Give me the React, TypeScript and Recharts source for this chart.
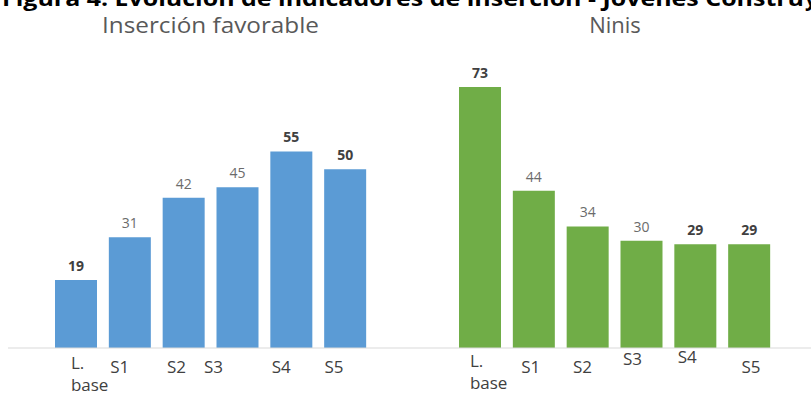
import { BarChart, Bar, XAxis, YAxis, LabelList } from "recharts"

const categories = ["L. base", "S1", "S2", "S3", "S4", "S5"]
const insercionValues = [19, 31, 42, 45, 55, 50]
const ninisValues = [73, 44, 34, 30, 29, 29]
const panelTitles = ["Inserción favorable", "Ninis"]
const figureTitle = "Figura 4. Evolución de indicadores de inserción - Jóvenes Constru"
const figureTitleRest = "yendo el Futuro"

// which value labels are bold in each panel
const boldLeft = [0, 4, 5]
const boldRight = [0, 4, 5]

// small per-tick nudges [dx, dy] to follow the original label placement
const nudgeLeft = [[-5, -4], [-10, 0], [-7, 0], [-24, 0], [-10, 0], [-11, 0]]
const nudgeRight = [[-10, -6], [-3, 0], [-5, 0], [-9, -8], [-8, -10], [2, 0]]

const FONT = "'Open Sans', sans-serif"

const makeTick = (nudge: number[][]) => (props: any) => {
   const { x, y, payload, index } = props
   const [dx, dy] = nudge[index] || [0, 0]
   const lines = String(payload.value).split(" ")
   const base = y + 25 + dy
   if (lines.length > 1) {
      return (
         <text x={x + dx} y={base} textAnchor="start" fontSize={17} fill="#404040" fontFamily={FONT}>
            {lines.map((l, i) => (
               <tspan key={i} x={x + dx} y={base + i * 22}>
                  {l}
               </tspan>
            ))}
         </text>
      )
   }
   return (
      <text x={x + dx} y={base} textAnchor="middle" fontSize={17} fill="#404040" fontFamily={FONT}>
         {payload.value}
      </text>
   )
}

const makeLabel = (bold: number[]) => (props: any) => {
   const { x, y, width, value, index } = props
   const isBold = bold.includes(index)
   return (
      <text
         x={x + width / 2}
         y={y - 9}
         textAnchor="middle"
         fontSize={14}
         fontFamily={FONT}
         fontWeight={isBold ? 700 : 400}
         fill={isBold ? "#404040" : "#6b6b6b"}
      >
         {value}
      </text>
   )
}

interface IPanel {
   values: number[]
   color: string
   bold: number[]
   nudge: number[][]
   width: number
   left: number
   marginLeft: number
   padLeft: number
   padRight: number
}

const Panel: React.FC<IPanel> = ({ values, color, bold, nudge, width, left, marginLeft, padLeft, padRight }) => {
   const data = categories.map((c, i) => ({ name: c, value: values[i] }))
   return (
      <div style={{ position: "absolute", left, top: 0 }}>
         <BarChart
            width={width}
            height={394}
            data={data}
            margin={{ top: 62, right: 0, bottom: 16, left: marginLeft }}
         >
            <XAxis
               dataKey="name"
               height={30}
               padding={{ left: padLeft, right: padRight }}
               axisLine={{ stroke: "#d9d9d9", strokeWidth: 1 }}
               tickLine={false}
               tickSize={0}
               tickMargin={0}
               interval={0}
               tick={makeTick(nudge)}
            />
            <YAxis hide domain={[0, 80]} />
            <Bar dataKey="value" fill={color} barSize={42} isAnimationActive={false}>
               <LabelList dataKey="value" content={makeLabel(bold)} />
            </Bar>
         </BarChart>
      </div>
   )
}

export default function App() {
   return (
      <div
         style={{
            position: "absolute",
            left: 0,
            top: 0,
            width: 811,
            height: 394,
            overflow: "hidden",
            background: "#fff",
            fontFamily: FONT,
         }}
      >
         <Panel
            values={insercionValues}
            color="#5b9bd5"
            bold={boldLeft}
            nudge={nudgeLeft}
            width={405}
            left={0}
            marginLeft={8}
            padLeft={41}
            padRight={33}
         />
         <Panel
            values={ninisValues}
            color="#70ad47"
            bold={boldRight}
            nudge={nudgeRight}
            width={406}
            left={405}
            marginLeft={0}
            padLeft={48}
            padRight={35}
         />
         <svg
            width={811}
            height={394}
            style={{ position: "absolute", left: 0, top: 0, pointerEvents: "none" }}
         >
            <text
               x={2}
               y={6}
               fontSize={21}
               fontWeight={700}
               fontFamily={FONT}
               fill="#000"
               textLength={802}
               lengthAdjust="spacingAndGlyphs"
            >
               {figureTitle}
            </text>
            <text x={805} y={6} fontSize={21} fontWeight={700} fontFamily={FONT} fill="#000">
               {figureTitleRest}
            </text>
            <text
               x={102}
               y={33}
               fontSize={22}
               fontFamily={FONT}
               fill="#595959"
               textLength={217}
               lengthAdjust="spacingAndGlyphs"
            >
               {panelTitles[0]}
            </text>
            <text x={615} y={33} fontSize={22} fontFamily={FONT} fill="#595959" textAnchor="middle">
               {panelTitles[1]}
            </text>
         </svg>
      </div>
   )
}
